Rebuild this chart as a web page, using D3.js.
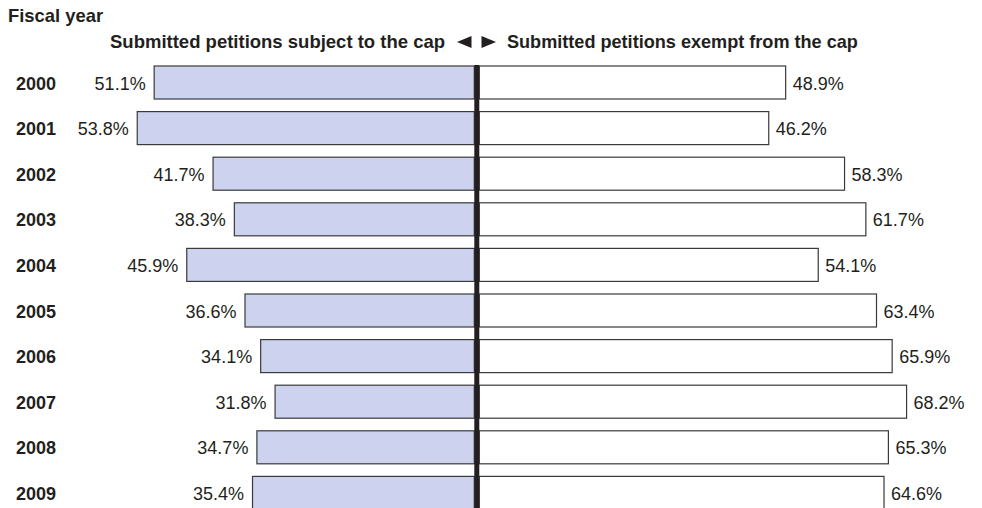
<!DOCTYPE html>
<html>
<head>
<meta charset="utf-8">
<script src="https://cdn.jsdelivr.net/npm/d3@7"></script>
<style>
  html, body { margin: 0; padding: 0; background: #fff; }
  svg { display: block; }
  text { font-family: "Liberation Sans", Arial, Helvetica, sans-serif; fill: #231f20; }
</style>
</head>
<body>
<script>
const years = ["2000","2001","2002","2003","2004","2005","2006","2007","2008","2009"];
const subjectToCap = [51.1, 53.8, 41.7, 38.3, 45.9, 36.6, 34.1, 31.8, 34.7, 35.4];
const exemptFromCap = [48.9, 46.2, 58.3, 61.7, 54.1, 63.4, 65.9, 68.2, 65.3, 64.6];
const axisTitle = "Fiscal year";
const leftTitle = "Submitted petitions subject to the cap";
const rightTitle = "Submitted petitions exempt from the cap";

const W = 982, H = 508;
const svg = d3.select("body").append("svg").attr("width", W).attr("height", H);

const y = d3.scaleBand().domain(years).range([59.7, 515.7]).paddingInner(0.276).paddingOuter(0.138);
const xLeft = d3.scaleLinear().domain([0, 100]).range([474.3, 474.3 - 626.5]);
const xRight = d3.scaleLinear().domain([0, 100]).range([479.3, 479.3 + 626.5]);

const rows = years.map((yr, i) => ({ yr, l: subjectToCap[i], r: exemptFromCap[i] }));

// titles
svg.append("text").attr("x", 8).attr("y", 21.5).attr("font-size", 18.4).attr("font-weight", "bold").text(axisTitle);
svg.append("text").attr("x", 110).attr("y", 47.5).attr("font-size", 18.5).attr("font-weight", "bold").text(leftTitle);
svg.append("text").attr("x", 507).attr("y", 47.5).attr("font-size", 18.1).attr("font-weight", "bold").text(rightTitle);
// arrows
svg.append("path").attr("d", "M457,42 L471.5,36 L471.5,48 Z").attr("fill", "#231f20");
svg.append("path").attr("d", "M496,42 L481.5,36 L481.5,48 Z").attr("fill", "#231f20");

// left bars
svg.append("g").selectAll("rect").data(rows).join("rect")
  .attr("x", d => xLeft(d.l)).attr("y", d => y(d.yr))
  .attr("width", d => xLeft(0) - xLeft(d.l)).attr("height", y.bandwidth())
  .attr("fill", "#cdd2ee").attr("stroke", "#3a3a3a").attr("stroke-width", 1.2);

// right bars
svg.append("g").selectAll("rect").data(rows).join("rect")
  .attr("x", xRight(0)).attr("y", d => y(d.yr))
  .attr("width", d => xRight(d.r) - xRight(0)).attr("height", y.bandwidth())
  .attr("fill", "#ffffff").attr("stroke", "#3a3a3a").attr("stroke-width", 1.2);

// center line
svg.append("line").attr("x1", 476.8).attr("x2", 476.8).attr("y1", 65).attr("y2", H)
  .attr("stroke", "#231f20").attr("stroke-width", 5);

// year labels
svg.append("g").selectAll("text").data(rows).join("text")
  .attr("x", 16).attr("y", d => y(d.yr) + y.bandwidth() / 2 + 7)
  .attr("font-size", 18).attr("font-weight", "bold").text(d => d.yr);

// value labels
svg.append("g").selectAll("text").data(rows).join("text")
  .attr("x", d => xLeft(d.l) - 8.5).attr("y", d => y(d.yr) + y.bandwidth() / 2 + 7)
  .attr("text-anchor", "end").attr("font-size", 18).text(d => d.l.toFixed(1) + "%");
svg.append("g").selectAll("text").data(rows).join("text")
  .attr("x", d => xRight(d.r) + 7).attr("y", d => y(d.yr) + y.bandwidth() / 2 + 7)
  .attr("font-size", 18).text(d => d.r.toFixed(1) + "%");
</script>
</body>
</html>
